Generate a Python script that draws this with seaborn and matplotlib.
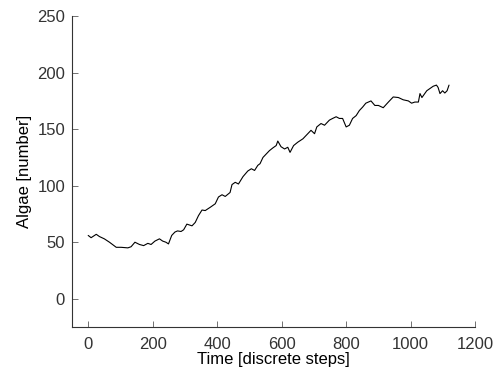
import matplotlib
matplotlib.use("Agg")
import matplotlib.pyplot as plt
import seaborn as sns
import pandas as pd

# Algae population over the simulation run
time_steps = [0, 9, 25, 35, 50, 66, 87, 102, 123, 133, 145, 159, 172, 185, 195, 207,
              221, 231, 241, 249, 259, 269, 277, 288, 296, 306, 322, 332, 342, 353,
              363, 379, 394, 404, 415, 425, 440, 446, 456, 466, 480, 495, 506, 516,
              526, 533, 542, 552, 562, 573, 583, 588, 598, 609, 619, 626, 637, 650,
              666, 681, 691, 702, 709, 722, 733, 748, 758, 769, 779, 789, 800, 810,
              820, 831, 841, 851, 861, 877, 889, 900, 915, 931, 946, 962, 977, 993,
              1003, 1013, 1024, 1029, 1035, 1050, 1060, 1070, 1080, 1085, 1091, 1099,
              1106, 1113, 1119]
algae_count = [56, 54, 57, 55, 53, 50, 45.5, 45.5, 45, 46, 50, 48, 47, 49, 48, 51,
               53, 51, 50, 48.5, 56, 59, 60, 59.5, 61, 66, 64.5, 67.5, 73.5, 78.5,
               78, 81, 84, 90, 92, 90.5, 94, 101, 103, 101.5, 108, 113, 115, 113.5,
               118, 119.5, 125, 128, 131, 133.5, 135.5, 139.5, 134.5, 132.5, 134, 129.5, 135.5, 138.5,
               141.5, 146, 149, 146, 152, 155, 153.5, 158, 159.5, 161, 159.5, 159.5, 152, 153.5,
               159.5, 162, 166.5, 169.5, 173, 175, 171, 171, 169, 174, 178.5, 178, 176, 175,
               173, 174, 174, 181.5, 178, 184, 186, 188, 189, 187, 181.5, 184,
               182, 184, 189]

x_ticks = [0, 200, 400, 600, 800, 1000, 1200]
y_ticks = [0, 50, 100, 150, 200, 250]

sns.set_theme(style="white")
plt.rcParams["font.family"] = ["Liberation Sans", "DejaVu Sans"]

df = pd.DataFrame({"t": time_steps, "algae": algae_count})

fig = plt.figure(figsize=(4.97, 3.67), dpi=100)
ax = fig.add_axes([0.145, 0.109, 0.811, 0.847])
sns.lineplot(data=df, x="t", y="algae", ax=ax, color="black", linewidth=0.8)

ax.set_xlim(-50, 1200)
ax.set_ylim(-25, 250)
ax.set_xticks(x_ticks)
ax.set_yticks(y_ticks)
ax.tick_params(bottom=True, left=True, top=False, right=False,
               direction="in", length=4, width=0.7, color="#707070",
               labelsize=12, labelcolor="#333333")
ax.tick_params(axis="x", pad=7)
ax.tick_params(axis="y", pad=5)
for side in ("top", "right"):
    ax.spines[side].set_visible(False)
for side in ("left", "bottom"):
    ax.spines[side].set_color("#333333")
    ax.spines[side].set_linewidth(0.8)

ax.set_xlabel("Time [discrete steps]", fontsize=12, color="black", labelpad=0)
ax.set_ylabel("Algae [number]", fontsize=12, color="black", labelpad=4)

fig.savefig("out.png", dpi=100, facecolor="white")
